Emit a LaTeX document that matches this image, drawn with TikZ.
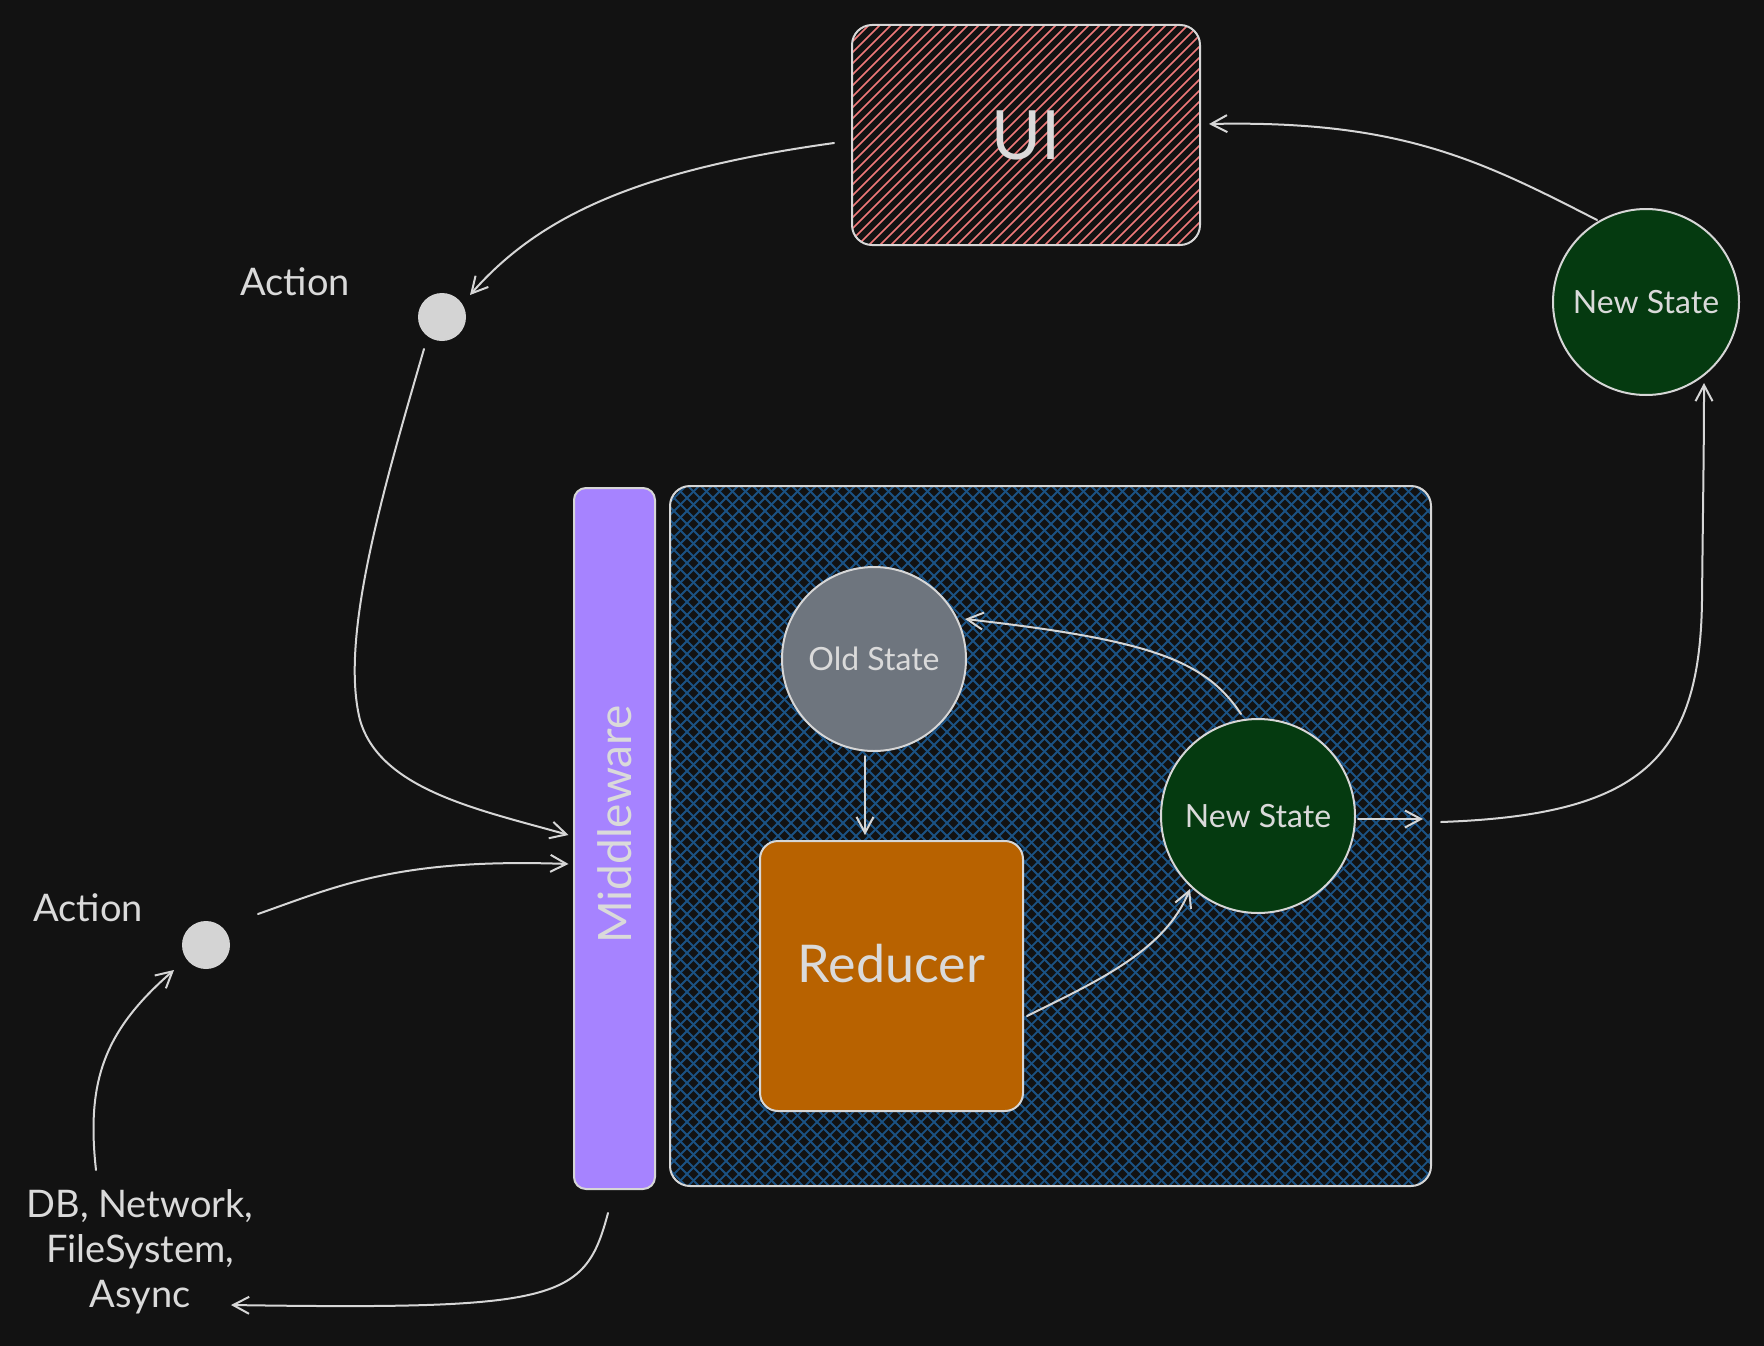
\documentclass[tikz,border=0pt]{standalone}
\usepackage{fontspec}
\setmainfont{Lato}
\usetikzlibrary{arrows.meta,calc}
\definecolor{bgc}{HTML}{121212}
\definecolor{strokec}{HTML}{D6D6D6}
\definecolor{textc}{HTML}{DADADA}
\definecolor{uihatch}{HTML}{F07A7A}
\definecolor{bluehatch}{HTML}{1B5283}
\definecolor{mwc}{HTML}{A683FF}
\definecolor{oldc}{HTML}{6E757E}
\definecolor{redc}{HTML}{B86200}
\definecolor{nsc}{HTML}{053A10}
\definecolor{dotc}{HTML}{D4D4D4}
\tikzset{
  shapebox/.style={draw=strokec, line width=2pt, text=textc},
  dotnode/.style={circle, fill=dotc, minimum size=48pt, inner sep=0pt},
  labeltext/.style={text=textc, inner sep=0pt, font=\fontsize{38}{45}\selectfont},
  statecircle/.style={shapebox, circle, inner sep=0pt, font=\fontsize{32}{36}\selectfont},
  conn/.style={draw=strokec, line width=2pt, line cap=round, line join=round,
    -{Straight Barb[length=16pt,width=17pt,line width=2pt]}},
}
\begin{document}
\begin{tikzpicture}[x=1pt,y=-1pt]
\useasboundingbox (0,0) rectangle (1764,1346);
\fill[bgc] (0,0) rectangle (1764,1346);

% UI box
\node[shapebox, fill=bgc, rounded corners=20pt, minimum width=348pt, minimum height=220pt,
  font=\fontsize{68}{72}\selectfont,
  path picture={
    \foreach \k in {0,11,...,583}
      \draw[uihatch, line width=1.7pt] ($(path picture bounding box.south west)+(\k-225,0)$) -- ++(230,-230);
  }] (ui) at (1026,135) {UI};

% Action dots and labels
\node[dotnode] (a1) at (442,317) {};
\node[labeltext] (a1l) at (295,282) {Action};
\node[dotnode] (a2) at (206,945) {};
\node[labeltext] (a2l) at (88,908) {Action};

% DB text
\node[labeltext, align=center] (db) at (140,1252) {DB, Network,\\FileSystem,\\Async};

% Middleware
\node[shapebox, fill=mwc, rounded corners=12pt, minimum width=81pt, minimum height=701pt] (mw) at (614.5,838.5) {};
\node[text=textc, rotate=90, inner sep=0pt, font=\fontsize{46}{50}\selectfont] (mwt) at ([yshift=14pt]mw.center) {Middleware};

% Core box with blue cross hatch
\node[shapebox, fill=bgc, rounded corners=20pt, minimum width=761pt, minimum height=700pt,
  path picture={
    \foreach \k in {0,13,...,1482} {
      \draw[bluehatch, line width=1.8pt] ($(path picture bounding box.south west)+(\k-710,0)$) -- ++(720,-720);
      \draw[bluehatch, line width=1.8pt] ($(path picture bounding box.north west)+(\k-710,0)$) -- ++(720,720);
    }
  }] (core) at (1050.5,836) {};

% States and reducer
\node[statecircle, fill=oldc, minimum size=184pt] (old) at (874,659) {Old State};
\node[shapebox, fill=redc, rounded corners=18pt, minimum width=263pt, minimum height=270pt] (red) at (891.5,976) {};
\node[text=textc, inner sep=0pt, font=\fontsize{52}{56}\selectfont] (redt) at ([yshift=12pt]red.center) {Reducer};
\node[statecircle, fill=nsc, minimum size=194pt] (ns) at (1258,816) {New State};
\node[statecircle, fill=nsc, minimum size=186pt] (ns2) at (1646,302) {New State};

% Connectors
\draw[conn] ([shift={(-192,8)}]ui.center) .. controls (640,170) and (540,215) .. ([shift={(28,-22)}]a1.center);
\draw[conn] ([shift={(-18,32)}]a1.center) .. controls (380,500) and (340,640) .. (360,720)
   .. controls (380,790) and (480,810) .. ([shift={(-46,-3.5)}]mw.center);
\draw[conn] ([shift={(52,-31)}]a2.center) .. controls (340,885) and (400,858) .. ([shift={(-46,25.5)}]mw.center);
\draw[conn] ([shift={(-44,-82)}]db.center) .. controls (86,1080) and (105,1030) .. ([shift={(-32,25)}]a2.center);
\draw[conn] ([shift={(-6.5,374.5)}]mw.center) .. controls (585,1300) and (560,1310) .. ([shift={(91,53)}]db.center);
\draw[conn] ([shift={(-9,97)}]old.center) -- ([shift={(-26.5,-141)}]red.center);
\draw[conn] ([shift={(135.5,40)}]red.center) .. controls (1100,980) and (1165,950) .. ([shift={(-68,73)}]ns.center);
\draw[conn] ([shift={(-17,-102)}]ns.center) .. controls (1205,660) and (1150,640) .. ([shift={(91,-40)}]old.center);
\draw[conn] ([shift={(100,3)}]ns.center) -- ([shift={(372.5,-17)}]core.center);
\draw[conn] ([shift={(390.5,-14)}]core.center) .. controls (1640,815) and (1700,760) .. (1702,600)
   .. controls (1703,500) and (1704,450) .. ([shift={(58,81)}]ns2.center);
\draw[conn] ([shift={(-49,-82)}]ns2.center) .. controls (1480,160) and (1400,120) .. ([shift={(183,-11)}]ui.center);
\end{tikzpicture}
\end{document}
